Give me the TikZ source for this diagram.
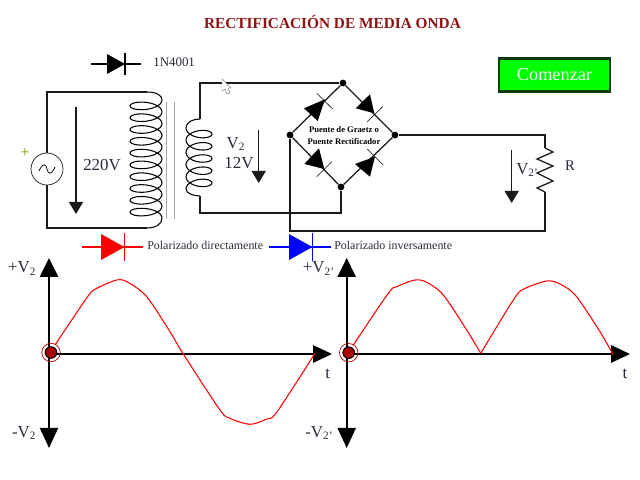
\documentclass[tikz,border=0pt]{standalone}
\usepackage{fontspec}
\setmainfont{Liberation Serif}
\usepackage{tikz}
\usetikzlibrary{arrows.meta}

\definecolor{titlered}{HTML}{8E1414}
\definecolor{wirecol}{HTML}{1A1A1A}
\definecolor{btngreen}{HTML}{00FF00}
\definecolor{btnedge}{HTML}{0B3A0B}
\definecolor{inkcol}{HTML}{2A2A3A}

\begin{document}
\begin{tikzpicture}
  [x=0.025cm, y=-0.025cm,
   wire/.style={draw=wirecol, line width=0.9pt},
   coil/.style={draw=black, line width=0.75pt},
   dot/.style={circle, fill=black, inner sep=0pt, minimum size=0.17cm},
   lab/.style={inner sep=0pt, text=inkcol, font=\fontsize{12}{14}\selectfont},
   small/.style={inner sep=0pt, text=inkcol, font=\fontsize{8.5}{10}\selectfont},
   volt/.style={draw=wirecol, line width=0.9pt, -{Triangle[length=0.3cm, width=0.35cm]}},
   axis/.style={draw=black, line width=1.4pt},
   wave/.style={draw=red, line width=0.75pt},
   tip/.style={fill=black}]
  \useasboundingbox (0,0) rectangle (640,480);

  \node (title) [inner sep=0pt, text=titlered, font=\fontsize{10.9}{12}\selectfont\bfseries] at (332.5,22.5) {RECTIFICACIÓN DE MEDIA ONDA};

  \node (start) [draw=btnedge, line width=1.7pt, fill=btngreen, minimum width=2.78cm, minimum height=0.82cm, inner sep=0pt, text=white, font=\fontsize{13}{15}\selectfont] at (554.5,75) {Comenzar};

  % sample diodes
  \foreach \x/\y/\c/\s/\l/\r/\n in {107/64/black/10/91/141/plain, 101/247/red/13/82/143/fwd, 289/247/blue/13/269/331/rev} {
    \coordinate (\n a) at (\l,\y);
    \coordinate (\n b) at (\r,\y);
    \draw [draw=\c, line width=0.8pt] (\n a) -- (\n b);
    \fill [\c] (\x,\y-\s) -- (\x+1.8*\s,\y) -- (\x,\y+\s) -- cycle;
    \draw [draw=\c, line width=0.8pt] (\x+1.8*\s,\y-\s-1) -- (\x+1.8*\s,\y+\s+1);
  }
  \node (part) [small, font=\fontsize{9.2}{11}\selectfont, anchor=west] at (153,62) {1N4001};
  \node (fwdtext) [small, anchor=west] at (147,245) {Polarizado directamente};
  \node (revtext) [small, anchor=west] at (334,245) {Polarizado inversamente};

  % primary
  \node (source) [circle, draw=wirecol, line width=0.5pt, minimum size=0.8cm, inner sep=0pt, fill=white] at (47,169) {};
  \draw [line width=0.5pt] (39,171) .. controls (43,162) and (46,164) .. (47,169) .. controls (48,174) and (51,176) .. (55,167);
  \node (plus) [inner sep=0pt, text=olive, font=\fontsize{11}{12}\selectfont] at (25,153) {+};
  \coordinate (pritop) at (147,92);
  \coordinate (pribot) at (147,228);
  \draw [wire] (source) -- (47,92) -- (pritop);
  \draw [wire] (source) -- (47,228) -- (pribot);
  \draw [coil] (pritop) .. controls (156,92) and (162,95) .. (162,100);
  \draw [coil] (pribot) .. controls (156,228) and (162,224) .. (162,218);
  \draw [coil] plot [domain=0:3600, samples=241, smooth] ({146+16*cos(\x)}, {100+0.03278*\x+6.5*sin(\x)});
  \draw [volt] (76,107) -- (76,214);
  \node (mains) [lab] at (102,165) {220V};

  % core
  \draw [draw=gray!70, line width=0.7pt] (166,102) -- (166,219);
  \draw [draw=gray!70, line width=0.7pt] (174,102) -- (174,219);

  % secondary
  \coordinate (sectop) at (200,119);
  \coordinate (secbot) at (200,196);
  \draw [coil] (sectop) .. controls (193,119) and (186,122) .. (186,128);
  \draw [coil] (secbot) .. controls (193,196) and (186,193) .. (186,189);
  \draw [coil] plot [domain=0:1800, samples=121, smooth] ({199-13*cos(\x)}, {128+0.03389*\x+6.5*sin(\x)});
  \draw [volt] (258.7,130) -- (258.7,183);
  \node (vsec) [lab] at (236,144) {V\textsubscript{2}};
  \node (vsecval) [lab] at (239,163) {12V};

  % bridge
  \node (brtop) [dot] at (343,83) {};
  \node (brleft) [dot] at (290,135) {};
  \node (brright) [dot] at (395,135) {};
  \node (brbot) [dot] at (341,187) {};
  \draw [wire] (brtop) -- (brleft) -- (brbot) -- (brright) -- (brtop);
  \fill [tip] (325,99.3) -- (304,108.3) -- (317.7,121) -- cycle;
  \fill [tip] (374.3,113.3) -- (355.7,108.3) -- (370,94.3) -- cycle;
  \fill [tip] (324.3,169) -- (319,148.3) -- (304.3,164) -- cycle;
  \fill [tip] (375,156.7) -- (355,164) -- (370,176.7) -- cycle;
  \draw [line width=0.4pt] (316.7,93.3) -- (332.7,109);
  \draw [line width=0.4pt] (367.3,121.7) -- (382.7,106.7);
  \draw [line width=0.4pt] (316.7,176.7) -- (331.7,161.7);
  \draw [line width=0.4pt] (367.3,149) -- (383.3,165);
  \node (brtext) [inner sep=0pt, align=center, text=black, font=\fontsize{6.1}{8.5}\selectfont\bfseries] at (344,135.5) {Puente de Graetz o\\Puente Rectificador};

  \draw [wire] (sectop) -- (200,83) -- (brtop);
  \draw [wire] (secbot) -- (200,213) -| (brbot);

  % load
  \coordinate (rtop) at (545,148);
  \coordinate (rbot) at (545,192);
  \draw [wire] (brright) -| (rtop);
  \draw [wire] (rtop) -- (553,152) -- (537,159) -- (553,166) -- (537,173) -- (553,181) -- (537,188) -- (rbot);
  \draw [wire] (rbot) -- (545,231) -| (brleft);
  \node (rname) [lab, font=\fontsize{10.5}{12}\selectfont] at (570,166) {R};
  \draw [volt] (511.7,150) -- (511.7,203);
  \node (vload) [lab, anchor=west] at (516,170) {V\textsubscript{2'}};

  % cursor
  \draw [draw=gray, fill=white, line width=0.35pt] (222,79) -- (222,91) -- (225,89) -- (227,94) -- (230,93) -- (228,88) -- (231,88) -- cycle;

  % left graph
  \coordinate (lorg) at (51,352.5);
  \draw [axis, {Triangle[length=0.47cm, width=0.45cm]}-{Triangle[length=0.5cm, width=0.45cm]}] (49,258) -- (49,448);
  \draw [axis, -{Triangle[length=0.47cm, width=0.43cm]}] (49,354) -- (332,354);
  \draw [wave] plot [smooth, tension=0.5] coordinates {(55,345) (86.7,298) (95,289.3) (116.7,280) (128,282.3) (146.7,296.7) (170,331.7) (183.3,354) (220,410) (230,418.3) (250,424.3) (266.7,419) (276.7,412.3) (315,353.3)};

  % right graph
  \coordinate (rorg) at (348.7,352.7);
  \draw [axis, {Triangle[length=0.47cm, width=0.45cm]}-{Triangle[length=0.5cm, width=0.45cm]}] (346.7,258) -- (346.7,448);
  \draw [axis, -{Triangle[length=0.47cm, width=0.43cm]}] (346.7,354) -- (630,354);
  \draw [wave] plot [smooth, tension=0.5] coordinates {(353.3,345) (388.3,293.3) (396.7,286.7) (415,280) (426.7,282.3) (443.3,295) (466.7,330) (480.7,353.3)};
  \draw [wave] plot [smooth, tension=0.5] coordinates {(480.7,353.3) (513.3,300) (523.3,289.3) (546.7,281) (560,284) (576,296) (600,331.7) (613.3,355)};

  % origin marks
  \foreach \o in {lorg, rorg} {
    \node [circle, draw=red!70!black, line width=0.5pt, minimum size=0.46cm, inner sep=0pt] at (\o) {};
    \node [circle, draw=black, line width=0.7pt, fill=red!65!black, minimum size=0.29cm, inner sep=0pt] at (\o) {};
  }

  % axis labels
  \node (lplus) [lab, anchor=east] at (36.5,268.5) {+V\textsubscript{2}};
  \node (lminus) [lab, anchor=east] at (36.5,433) {-V\textsubscript{2}};
  \node (lt) [lab] at (327.7,374) {t};
  \node (rplus) [lab, anchor=east] at (335,268.5) {+V\textsubscript{2'}};
  \node (rminus) [lab, anchor=east] at (333.5,433) {-V\textsubscript{2'}};
  \node (rt) [lab] at (625,374) {t};
\end{tikzpicture}
\end{document}
